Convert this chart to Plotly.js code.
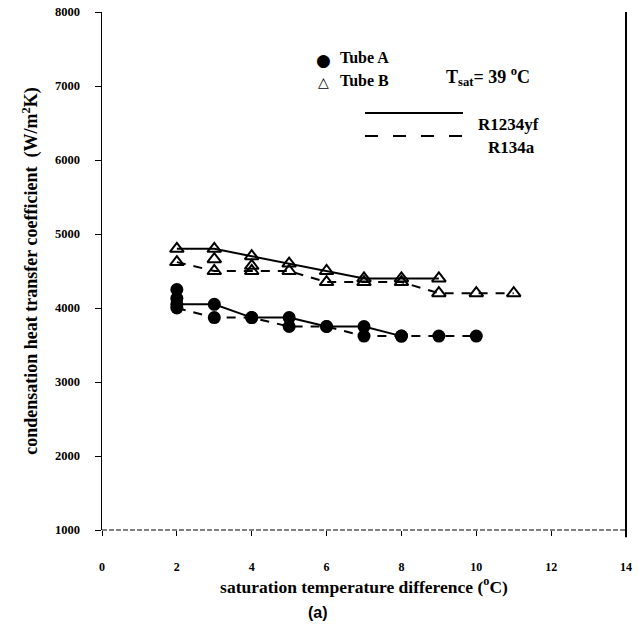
<!DOCTYPE html>
<html>
<head>
<meta charset="utf-8">
<script src="https://cdn.plot.ly/plotly-3.0.1.min.js"></script>
<style>
html,body{margin:0;padding:0;background:#fff;}
#chart{width:639px;height:627px;}
</style>
</head>
<body>
<div id="chart"></div>
<script>
// Data
var tubeB_R1234yf_x = [2, 3, 4, 5, 6, 7, 8, 9];
var tubeB_R1234yf_y = [4800, 4800, 4700, 4600, 4500, 4400, 4400, 4400];
var tubeB_R134a_x = [2, 3, 4, 5, 6, 7, 8, 9, 10, 11];
var tubeB_R134a_y = [4620, 4500, 4500, 4500, 4350, 4350, 4350, 4200, 4200, 4200];
var tubeB_extra_x = [3, 4];
var tubeB_extra_y = [4660, 4570];

var tubeA_R1234yf_x = [2, 3, 4, 5, 6, 7, 8];
var tubeA_R1234yf_y = [4050, 4050, 3870, 3870, 3750, 3750, 3620];
var tubeA_R134a_x = [2, 3, 4, 5, 6, 7, 8, 9, 10];
var tubeA_R134a_y = [4000, 3870, 3870, 3750, 3750, 3620, 3620, 3620, 3620];
var tubeA_extra_x = [2, 2];
var tubeA_extra_y = [4250, 4130];

var xTicks = [0, 2, 4, 6, 8, 10, 12, 14];
var yTicks = [1000, 2000, 3000, 4000, 5000, 6000, 7000, 8000];

var serif = "Liberation Serif, Times New Roman, serif";

var circ = {symbol: 'circle', size: 13, color: '#000'};
var tri = {symbol: 'triangle-up-open', size: 12, color: '#000', line: {color: '#000', width: 2}};

var traces = [
  {x: tubeB_R1234yf_x, y: tubeB_R1234yf_y, mode: 'lines+markers', line: {color: '#000', width: 2}, marker: tri},
  {x: tubeB_R134a_x, y: tubeB_R134a_y, mode: 'lines+markers', line: {color: '#000', width: 2, dash: '9px,8px'}, marker: tri},
  {x: tubeB_extra_x, y: tubeB_extra_y, mode: 'markers', marker: tri},
  {x: tubeA_R1234yf_x, y: tubeA_R1234yf_y, mode: 'lines+markers', line: {color: '#000', width: 2}, marker: circ},
  {x: tubeA_R134a_x, y: tubeA_R134a_y, mode: 'lines+markers', line: {color: '#000', width: 2, dash: '9px,8px'}, marker: circ},
  {x: tubeA_extra_x, y: tubeA_extra_y, mode: 'markers', marker: circ}
];

function px(x){return (x-102)/524;}
function py(y){return (530-y)/518;}

var layout = {
  width: 639, height: 627,
  margin: {l: 102, r: 13, t: 12, b: 97},
  paper_bgcolor: '#fff', plot_bgcolor: '#fff',
  showlegend: false,
  font: {family: serif, color: '#000'},
  xaxis: {
    range: [0, 14], tickvals: xTicks, ticktext: xTicks.map(String),
    showgrid: false, zeroline: false, showline: false,
    ticks: 'outside', ticklen: 5, tickwidth: 1, tickcolor: '#000',
    ticklabelstandoff: 21,
    tickfont: {family: serif, size: 12, color: '#000', weight: 'bold'},
    title: {text: 'saturation temperature difference (<sup>o</sup>C)', standoff: 6,
            font: {family: serif, size: 17.5, color: '#000', weight: 'bold'}}
  },
  yaxis: {
    range: [1000, 8000], tickvals: yTicks, ticktext: yTicks.map(String),
    showgrid: false, zeroline: false, showline: true, linecolor: '#000', linewidth: 1.5,
    ticks: 'outside', ticklen: 6, tickwidth: 1, tickcolor: '#000',
    ticklabelstandoff: 12,
    tickfont: {family: serif, size: 12.5, color: '#000', weight: 'bold'},
    title: {text: 'condensation heat transfer coefficient  (W/m<sup>2</sup>K)', standoff: 12,
            font: {family: serif, size: 18, color: '#000', weight: 'bold'}}
  },
  shapes: [
    {type: 'line', xref: 'paper', yref: 'paper', x0: 0, x1: 1, y0: 0, y1: 0,
     line: {color: '#000', width: 1, dash: '5px,2px'}},
    {type: 'line', xref: 'paper', yref: 'paper', x0: 1, x1: 1, y0: -0.014, y1: 1,
     line: {color: '#000', width: 2}},
    {type: 'line', xref: 'paper', yref: 'paper', x0: px(365), x1: px(463), y0: py(113), y1: py(113),
     line: {color: '#000', width: 2}},
    {type: 'line', xref: 'paper', yref: 'paper', x0: px(365), x1: px(463), y0: py(136), y1: py(136),
     line: {color: '#000', width: 2, dash: '13px,15px'}}
  ],
  annotations: [
    {xref: 'paper', yref: 'paper', x: px(323), y: py(48), text: '●', showarrow: false,
     font: {family: 'DejaVu Sans', size: 17, color: '#000'}},
    {xref: 'paper', yref: 'paper', x: px(323), y: py(72), text: '△', showarrow: false,
     font: {family: 'DejaVu Sans', size: 14, color: '#000'}},
    {xref: 'paper', yref: 'paper', x: px(338), y: py(47), xanchor: 'left', text: 'Tube A', showarrow: false,
     font: {family: serif, size: 16, color: '#000', weight: 'bold'}},
    {xref: 'paper', yref: 'paper', x: px(338), y: py(70), xanchor: 'left', text: 'Tube B', showarrow: false,
     font: {family: serif, size: 16, color: '#000', weight: 'bold'}},
    {xref: 'paper', yref: 'paper', x: px(444), y: py(62), xanchor: 'left', text: 'T<sub>sat</sub>= 39 <sup>o</sup>C', showarrow: false,
     font: {family: serif, size: 18, color: '#000', weight: 'bold'}},
    {xref: 'paper', yref: 'paper', x: px(476), y: py(113), xanchor: 'left', text: 'R1234yf', showarrow: false,
     font: {family: serif, size: 17, color: '#000', weight: 'bold'}},
    {xref: 'paper', yref: 'paper', x: px(486), y: py(136), xanchor: 'left', text: 'R134a', showarrow: false,
     font: {family: serif, size: 17, color: '#000', weight: 'bold'}},
    {xref: 'paper', yref: 'paper', x: px(318), y: py(612), yanchor: 'middle', text: '(a)', showarrow: false,
     font: {family: 'Liberation Sans, Arial, sans-serif', size: 16, color: '#000', weight: 'bold'}}
  ]
};

Plotly.newPlot('chart', traces, layout, {displayModeBar: false, staticPlot: true});
</script>
</body>
</html>
